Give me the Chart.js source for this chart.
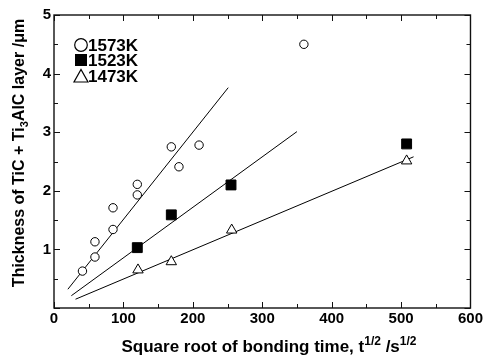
<!DOCTYPE html>
<html>
<head>
<meta charset="utf-8">
<script src="https://cdn.jsdelivr.net/npm/chart.js@4.4.1/dist/chart.umd.min.js"></script>
<style>
html,body{margin:0;padding:0;background:#fff;}
#c{display:block;}
</style>
</head>
<body>
<canvas id="c" width="485" height="358"></canvas>
<script>
// ---- data ----
const x1573 = [41, 59, 59, 85, 85, 120, 120, 169, 180, 209, 360];
const y1573 = [0.63, 0.87, 1.13, 1.34, 1.71, 1.93, 2.11, 2.75, 2.41, 2.78, 4.5];
const x1523 = [120, 169, 255, 508];
const y1523 = [1.03, 1.59, 2.10, 2.80];
const x1473 = [121, 169, 256, 508];
const y1473 = [0.65, 0.79, 1.33, 2.51];
// fitted lines (end points as drawn)
const fit1573x = [20, 251];
const fit1573y = [0.32, 3.76];
const fit1523x = [25, 350];
const fit1523y = [0.21, 3.01];
const fit1473x = [31, 518];
const fit1473y = [0.15, 2.58];
const xTicks = [0, 100, 200, 300, 400, 500, 600];
const yTicks = [1, 2, 3, 4, 5];
const legendLabels = ['1573K', '1523K', '1473K'];

const zip = (xs, ys) => xs.map((x, i) => ({x: x, y: ys[i]}));
const FONT = '"Liberation Sans", Arial, sans-serif';

const decorPlugin = {
  id: 'decor',
  afterDraw(chart) {
    const ctx = chart.ctx;
    const a = chart.chartArea;
    const xs = chart.scales.x, ys = chart.scales.y;
    ctx.save();
    ctx.strokeStyle = '#111';
    ctx.lineWidth = 1.4;
    ctx.strokeRect(a.left, a.top, a.right - a.left, a.bottom - a.top);
    ctx.lineWidth = 1;
    ctx.beginPath();
    for (let v = 0; v <= 600; v += 50) {
      const p = Math.round(xs.getPixelForValue(v)) + 0.5;
      const L = (v % 100 === 0) ? 6 : 4;
      ctx.moveTo(p, a.bottom); ctx.lineTo(p, a.bottom - L);
      ctx.moveTo(p, a.top); ctx.lineTo(p, a.top + L);
    }
    for (let v = 0; v <= 5.001; v += 0.5) {
      const p = Math.round(ys.getPixelForValue(v)) + 0.5;
      const L = (Math.abs(v - Math.round(v)) < 1e-6) ? 6 : 4;
      ctx.moveTo(a.left, p); ctx.lineTo(a.left + L, p);
      ctx.moveTo(a.right, p); ctx.lineTo(a.right - L, p);
    }
    ctx.stroke();

    // legend
    const lx = 81, rows = [45, 60, 76];
    ctx.fillStyle = '#000';
    ctx.strokeStyle = '#000';
    ctx.lineWidth = 1.2;
    ctx.beginPath(); ctx.arc(lx, rows[0], 6.3, 0, Math.PI * 2); ctx.stroke();
    ctx.fillRect(lx - 6, rows[1] - 6, 12, 12);
    ctx.beginPath();
    ctx.moveTo(lx - 7, rows[2] + 6); ctx.lineTo(lx + 7, rows[2] + 6); ctx.lineTo(lx, rows[2] - 6.5); ctx.closePath(); ctx.stroke();
    ctx.font = 'bold 17px ' + FONT;
    ctx.textBaseline = 'middle';
    ctx.textAlign = 'left';
    legendLabels.forEach((t, i) => ctx.fillText(t, lx + 7, rows[i] + 1));

    // axis titles with sub/superscripts
    function rich(parts, cx, cy) {
      let w = 0;
      parts.forEach(p => { ctx.font = 'bold ' + p.s + 'px ' + FONT; p.w = ctx.measureText(p.t).width; w += p.w; });
      let x = cx - w / 2;
      ctx.textAlign = 'left';
      ctx.textBaseline = 'alphabetic';
      parts.forEach(p => { ctx.font = 'bold ' + p.s + 'px ' + FONT; ctx.fillText(p.t, x, cy + (p.dy || 0)); x += p.w; });
    }
    rich([
      {t: 'Square root of bonding time, t', s: 17},
      {t: '1/2', s: 12, dy: -7},
      {t: ' /s', s: 17},
      {t: '1/2', s: 12, dy: -7}
    ], 269, 352);
    ctx.save();
    ctx.translate(24, 153);
    ctx.rotate(-Math.PI / 2);
    rich([
      {t: 'Thickness of TiC + Ti', s: 16},
      {t: '3', s: 11, dy: 4},
      {t: 'AlC layer /\u03bcm', s: 16}
    ], 0, 0);
    ctx.restore();
    ctx.restore();
  }
};

const lineDs = (xs, ys) => ({
  type: 'line', data: zip(xs, ys), showLine: true, borderColor: '#000', borderWidth: 1,
  pointRadius: 0, fill: false, order: 2
});

new Chart(document.getElementById('c'), {
  type: 'scatter',
  data: {
    datasets: [
      lineDs(fit1573x, fit1573y),
      lineDs(fit1523x, fit1523y),
      lineDs(fit1473x, fit1473y),
      {label: '1573K', data: zip(x1573, y1573), pointStyle: 'circle', pointRadius: 4.2,
       backgroundColor: '#fff', borderColor: '#000', borderWidth: 1, order: 1},
      {label: '1523K', data: zip(x1523, y1523), pointStyle: 'rect', pointRadius: 7,
       backgroundColor: '#000', borderColor: '#000', borderWidth: 1, order: 1},
      {label: '1473K', data: zip(x1473, y1473), pointStyle: 'triangle', pointRadius: 6,
       backgroundColor: '#fff', borderColor: '#000', borderWidth: 1, order: 1}
    ]
  },
  options: {
    responsive: false,
    animation: false,
    devicePixelRatio: 1,
    layout: {padding: {left: 0, top: 15, right: 13, bottom: 0}},
    plugins: {legend: {display: false}, tooltip: {enabled: false}},
    scales: {
      x: {
        type: 'linear', min: 0, max: 600,
        afterFit: s => { s.height = 50; },
        afterBuildTicks: s => { s.ticks = xTicks.map(v => ({value: v})); },
        grid: {display: false, drawTicks: false}, border: {display: false},
        ticks: {font: {family: FONT, size: 15, weight: 'bold'}, color: '#000', padding: 2, maxRotation: 0}
      },
      y: {
        type: 'linear', min: 0, max: 5,
        afterFit: s => { s.width = 54; },
        afterBuildTicks: s => { s.ticks = yTicks.map(v => ({value: v})); },
        grid: {display: false, drawTicks: false}, border: {display: false},
        ticks: {font: {family: FONT, size: 15, weight: 'bold'}, color: '#000', padding: 3}
      }
    }
  },
  plugins: [decorPlugin]
});
</script>
</body>
</html>
